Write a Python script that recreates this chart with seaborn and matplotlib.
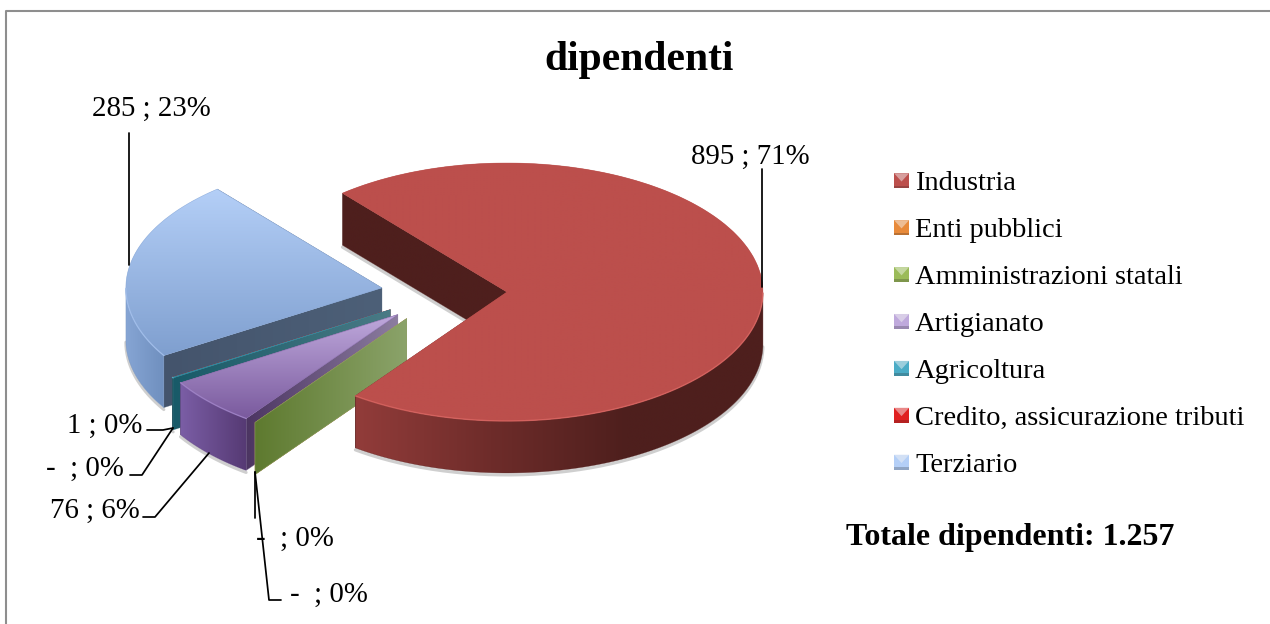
import numpy as np
import matplotlib
matplotlib.use("Agg")
import matplotlib.pyplot as plt
from matplotlib.legend_handler import HandlerBase
from matplotlib.patches import Polygon
import seaborn as sns

categories = ["Industria", "Enti pubblici", "Amministrazioni statali", "Artigianato",
              "Agricoltura", "Credito, assicurazione tributi", "Terziario"]
values = [895, 0, 0, 76, 1, 0, 285]
total_label = "Totale dipendenti: 1.257"

legend_colors = ["#B84A47", "#E88A3A", "#9BBB59", "#7F63A1", "#3F9DB8", "#EE1111", "#8FAAD8"]
top_colors = [["#BC4F4C", "#BC4F4C"], ["#E88A3A", "#E88A3A"], ["#9BBB59", "#9BBB59"],
              ["#BFA9DC", "#7A5A9E"], ["#4BACC6", "#2F8298"], ["#E02020", "#E02020"],
              ["#B4CFF7", "#7F9FCF"]]
rim_colors = [["#923C3A", "#6E2C2A", "#4E1F1D", "#4E1F1D"], ["#C06A20", "#C06A20"], ["#5E7A2F", "#5E7A2F"],
              ["#7B5EA6", "#563A74"], ["#185A68", "#185A68"], ["#C01818", "#C01818"],
              ["#86A5D4", "#6F8FBE"]]
cut_colors = [["#4E1F1D", "#4E1F1D"], ["#B86A20", "#D08A50"], ["#5E7A2F", "#8BA36A"],
              ["#4C3562", "#8C7DA0"], ["#185A68", "#4A7A85"], ["#B01818", "#D03030"],
              ["#44546C", "#4D6078"]]
edge_colors = ["#E06A66", "#F0A060", "#B0C880", "#A78BD0", "#60C0D8", "#F04040", "#A8C4F0"]
draw_order = [6, 5, 4, 3, 1, 2, 0]

W, H = 1270, 624
CX, CY = 444, 293   # pixel centre of the unexploded pie
RX, RY = 256, 129   # pixel radii of the ellipse
DEPTH = 52 / RY


def gradient(points, colors, z, horizontal=True):
    # fill a polygon with a linear gradient, image clipped to the polygon
    points = np.asarray(points)
    x0, x1 = points[:, 0].min(), points[:, 0].max()
    y0, y1 = points[:, 1].min(), points[:, 1].max()
    if x1 - x0 < 1e-6 or y1 - y0 < 1e-6:
        return
    ramp = np.linspace(0, 1, 256)
    ramp = ramp[None, :] if horizontal else ramp[:, None]
    cmap = sns.blend_palette(colors, 64, as_cmap=True)
    im = ax.imshow(ramp, cmap=cmap, extent=(x0, x1, y0, y1), origin="upper" if not horizontal else "lower",
                   aspect="auto", interpolation="bilinear", zorder=z)
    clip = Polygon(points, closed=True, transform=ax.transData)
    im.set_clip_path(clip)
    ax.add_patch(Polygon(points, closed=True, fill=False, edgecolor=colors[len(colors) // 2],
                         linewidth=0.4, alpha=0.6, zorder=z))


def ray(w, angle):
    return w.center[0] + np.cos(np.radians(angle)), w.center[1] + np.sin(np.radians(angle))


class BevelHandler(HandlerBase):
    def create_artists(self, legend, handle, xd, yd, width, height, fontsize, trans):
        c = handle.get_facecolor()
        light = sns.light_palette(c, 5)[2]
        dark = sns.dark_palette(c, 5)[3]
        x0, y0 = -xd, -yd
        s = width
        m = s * 0.18
        parts = [
            Polygon([(x0, y0), (x0 + s, y0), (x0 + s, y0 + s), (x0, y0 + s)], facecolor=c),
            Polygon([(x0, y0 + s), (x0 + s, y0 + s), (x0 + s / 2, y0 + s * 0.45)], facecolor=light),
            Polygon([(x0, y0), (x0 + s, y0), (x0 + s, y0 + m), (x0, y0 + m)], facecolor=dark),
        ]
        for p in parts:
            p.set_transform(trans)
            p.set_linewidth(0)
        return parts


sns.set_theme(style="white")
plt.rcParams["font.family"] = ["Liberation Serif", "DejaVu Serif"]
plt.rcParams["text.color"] = "black"

fig = plt.figure(figsize=(W / 100, H / 100), dpi=100, facecolor="white")
ax = fig.add_axes([0, 0, 1, 1])

wedges, _ = ax.pie(values, startangle=130, counterclock=False, radius=1,
                   explode=[0.246] * len(values), colors=sns.color_palette(legend_colors))
ax.set_aspect("auto")
ax.set_xlim(-CX / RX, (W - CX) / RX)
ax.set_ylim((CY - H) / RY, CY / RY)
ax.set_autoscale_on(False)
ax.axis("off")

z = 2
for i in draw_order:
    w = wedges[i]
    cx, cy = w.center
    t = np.radians(np.linspace(w.theta1, w.theta2, 400))
    ax_, ay_ = cx + np.cos(t), cy + np.sin(t)
    front = np.sin(t) <= 0

    # soft shadow under the slice
    if front.any():
        ax.plot(ax_[front], ay_[front] - DEPTH - 2 / RY, color="#555555", lw=2.2, alpha=0.28, zorder=1)
    if i == 0:
        ex, ey = ray(w, w.theta2)
        ax.plot([cx, ex], [cy - DEPTH - 2 / RY, ey - DEPTH - 2 / RY], color="#555555", lw=2.2, alpha=0.28, zorder=1)

    # cut faces
    for ang in (w.theta1, w.theta2):
        ex, ey = ray(w, ang)
        gradient([(cx, cy), (ex, ey), (ex, ey - DEPTH), (cx, cy - DEPTH)], cut_colors[i], z)
        z += 1

    # outer rim
    if front.any():
        rim = np.column_stack([np.r_[ax_[front], ax_[front][::-1]],
                               np.r_[ay_[front], ay_[front][::-1] - DEPTH]])
        gradient(rim, rim_colors[i], z)
        z += 1

    # top face
    w.set_zorder(z)
    w.set_facecolor(top_colors[i][0])
    w.set_linewidth(0)
    z += 1
    if values[i] > 0:
        verts = np.column_stack([np.r_[cx, ax_], np.r_[cy, ay_]])
        gradient(verts, top_colors[i], z, horizontal=False)
        z += 1
        ax.plot(ax_[front], ay_[front], color=edge_colors[i], lw=1.0, alpha=0.7, zorder=z)
        z += 1

# overlay in pixel coordinates for frame, title, labels and leader lines
ov = fig.add_axes([0, 0, 1, 1], facecolor="none")
ov.set_xlim(0, W)
ov.set_ylim(H, 0)
ov.axis("off")

ov.plot([6, 6, W], [H, 11, 11], color="#8E8E8E", lw=1.5, zorder=50)

ov.text(639, 60, "dipendenti", fontsize=30, fontweight="bold", ha="center", va="center", color="black")
ov.text(1010, 537, total_label, fontsize=23, fontweight="bold", ha="center", va="center", color="black")

leaders = [
    [(129, 133), (129, 265)],
    [(762, 169), (762, 287)],
    [(147, 430), (163, 430), (173, 428)],
    [(130, 475), (142, 475), (173, 428)],
    [(143, 517), (155, 517), (209, 453)],
    [(255, 472), (255, 518)],
    [(255, 472), (269, 600), (281, 600)],
]
for pts in leaders:
    xs, ys = zip(*pts)
    ov.plot(xs, ys, color="black", lw=1.25, zorder=40, solid_joinstyle="round")

total = sum(values)


def label(i):
    v = values[i]
    head = str(v) if v else "-"
    gap = " ; " if v else "  ; "
    return f"{head}{gap}{round(100 * v / total)}%"


label_spots = {6: (151, 109), 0: (750, 157), 4: (105, 426), 5: (85, 469), 3: (95, 511), 2: (295, 539), 1: (329, 595)}
for i, (x, y) in label_spots.items():
    ov.text(x, y, label(i), fontsize=20.8, ha="center", va="center", color="black")

leg = ov.legend(wedges, categories, handler_map={type(wedges[0]): BevelHandler()},
                loc="upper left", bbox_to_anchor=(894 / W, 1 - 171 / H), bbox_transform=fig.transFigure,
                frameon=False, fontsize=20.5, handlelength=0.53, handleheight=0.53, handletextpad=0.21,
                labelspacing=0.77, borderpad=0, borderaxespad=0, labelcolor="black")

fig.savefig("out.png", dpi=100, facecolor="white")
